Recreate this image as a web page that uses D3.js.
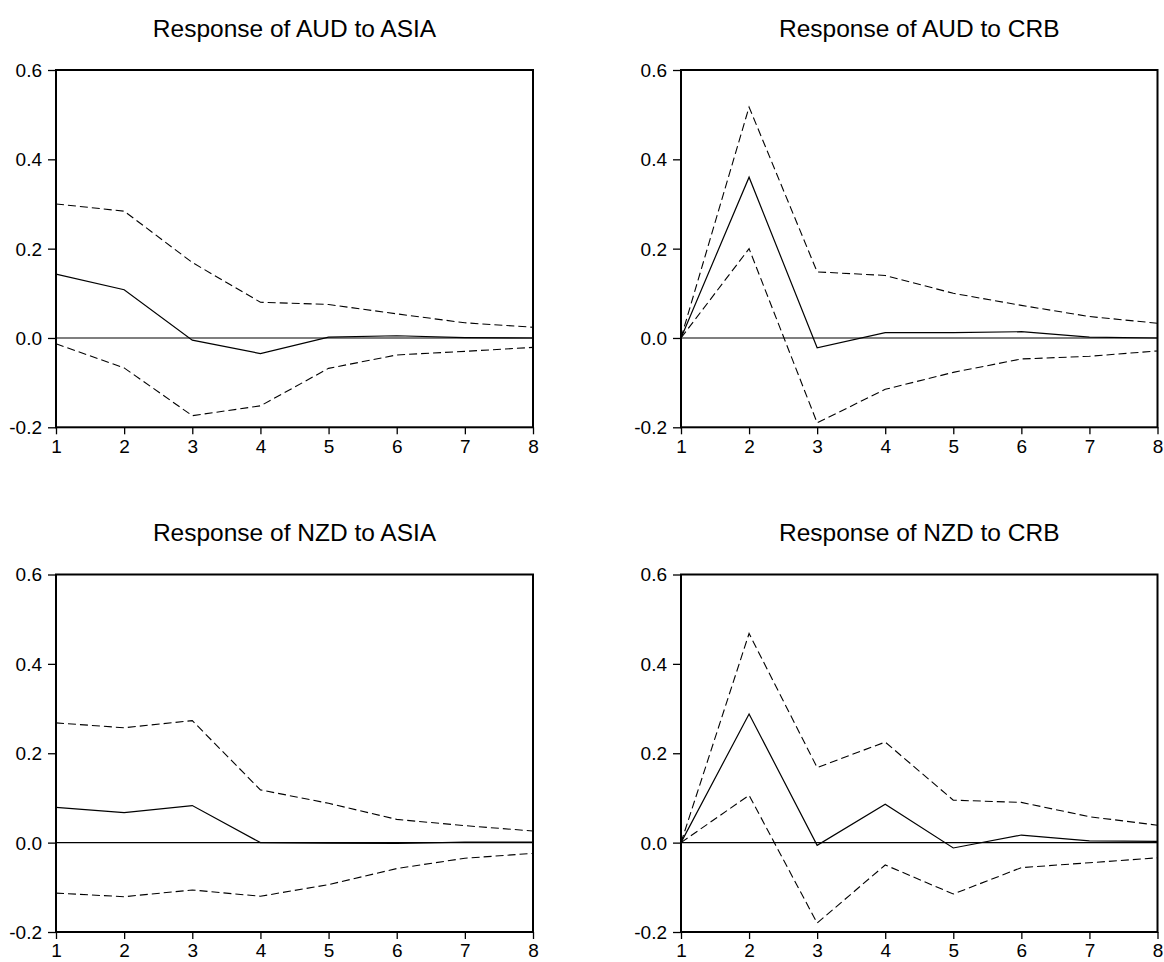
<!DOCTYPE html>
<html>
<head>
<meta charset="utf-8">
<script src="https://cdn.jsdelivr.net/npm/d3@7"></script>
<style>
  html, body { margin: 0; padding: 0; background: #fff; }
  svg { display: block; }
  text { font-family: "Liberation Sans", Arial, sans-serif; fill: #000; }
</style>
</head>
<body>
<svg id="chart" width="1164" height="962"></svg>
<script>
// Impulse responses (point estimate with +/- 2 S.E. bands), periods 1..8
const periods = [1, 2, 3, 4, 5, 6, 7, 8];
const yTicks = [-0.2, 0.0, 0.2, 0.4, 0.6];
const yTickLabels = ["-0.2", "0.0", "0.2", "0.4", "0.6"];
const xTickLabels = ["1", "2", "3", "4", "5", "6", "7", "8"];

const titles = [
  "Response of AUD to ASIA",
  "Response of AUD to CRB",
  "Response of NZD to ASIA",
  "Response of NZD to CRB"
];

const audAsiaResp  = [0.143, 0.108, -0.005, -0.035, 0.002, 0.005, 0.001, 0.000];
const audAsiaUpper = [0.300, 0.284, 0.169, 0.080, 0.075, 0.054, 0.034, 0.024];
const audAsiaLower = [-0.013, -0.067, -0.174, -0.152, -0.068, -0.038, -0.030, -0.021];

const audCrbResp  = [0.000, 0.360, -0.022, 0.012, 0.012, 0.014, 0.002, 0.000];
const audCrbUpper = [0.000, 0.517, 0.148, 0.140, 0.100, 0.073, 0.048, 0.033];
const audCrbLower = [0.000, 0.200, -0.190, -0.115, -0.077, -0.047, -0.041, -0.029];

const nzdAsiaResp  = [0.079, 0.067, 0.083, 0.000, -0.001, -0.002, 0.001, 0.001];
const nzdAsiaUpper = [0.268, 0.257, 0.273, 0.118, 0.088, 0.052, 0.038, 0.026];
const nzdAsiaLower = [-0.113, -0.121, -0.106, -0.120, -0.094, -0.058, -0.035, -0.024];

const nzdCrbResp  = [0.000, 0.288, -0.006, 0.086, -0.012, 0.017, 0.004, 0.003];
const nzdCrbUpper = [0.000, 0.468, 0.168, 0.225, 0.095, 0.090, 0.058, 0.039];
const nzdCrbLower = [0.000, 0.106, -0.180, -0.050, -0.115, -0.056, -0.045, -0.034];

const panelSeries = [
  { resp: audAsiaResp, upper: audAsiaUpper, lower: audAsiaLower },
  { resp: audCrbResp,  upper: audCrbUpper,  lower: audCrbLower },
  { resp: nzdAsiaResp, upper: nzdAsiaUpper, lower: nzdAsiaLower },
  { resp: nzdCrbResp,  upper: nzdCrbUpper,  lower: nzdCrbLower }
];

// Panel frames: [left, right, top, bottom]
const frames = [
  [56, 533, 70, 427.3],
  [681, 1157.5, 70, 427.3],
  [56, 533, 574.5, 932],
  [681, 1157.5, 574.5, 932]
];

const svg = d3.select("#chart");

panelSeries.forEach((s, i) => {
  const [x0, x1, y0, y1] = frames[i];
  const x = d3.scaleLinear().domain([1, 8]).range([x0, x1]);
  const y = d3.scaleLinear().domain([-0.2, 0.6]).range([y1, y0]);
  const g = svg.append("g");

  // title
  g.append("text")
    .attr("x", (x0 + x1) / 2)
    .attr("y", y0 - 33.5)
    .attr("text-anchor", "middle")
    .style("font-size", "24.5px")
    .text(titles[i]);

  // zero reference line
  g.append("line")
    .attr("x1", x0).attr("x2", x1)
    .attr("y1", y(0)).attr("y2", y(0))
    .attr("stroke", "#000").attr("stroke-width", 1.2);

  const line = d3.line().x((d, k) => x(periods[k])).y(d => y(d));

  g.append("path").datum(s.upper)
    .attr("d", line).attr("fill", "none")
    .attr("stroke", "#000").attr("stroke-width", 1.1)
    .attr("stroke-dasharray", "8,4");
  g.append("path").datum(s.lower)
    .attr("d", line).attr("fill", "none")
    .attr("stroke", "#000").attr("stroke-width", 1.1)
    .attr("stroke-dasharray", "8,4");
  g.append("path").datum(s.resp)
    .attr("d", line).attr("fill", "none")
    .attr("stroke", "#000").attr("stroke-width", 1.2);

  // y axis
  const yAxis = d3.axisLeft(y)
    .tickValues(yTicks)
    .tickFormat((d, k) => yTickLabels[k])
    .tickSizeInner(8).tickSizeOuter(0).tickPadding(6);
  const ya = g.append("g").attr("transform", `translate(${x0},0)`).call(yAxis);

  // x axis
  const xAxis = d3.axisBottom(x)
    .tickValues(periods)
    .tickFormat((d, k) => xTickLabels[k])
    .tickSizeInner(7).tickSizeOuter(0).tickPadding(5);
  const xa = g.append("g").attr("transform", `translate(0,${y1})`).call(xAxis);

  [ya, xa].forEach(a => {
    a.select(".domain").remove();
    a.selectAll(".tick line").attr("stroke", "#000").attr("stroke-width", 1.3);
    a.selectAll(".tick text")
      .style("font-size", "19px")
      .style("font-family", "'Liberation Sans', Arial, sans-serif")
      .attr("fill", "#000");
  });
  ya.selectAll(".tick text").attr("dy", "0.34em");

  // frame
  g.append("rect")
    .attr("x", x0).attr("y", y0)
    .attr("width", x1 - x0).attr("height", y1 - y0)
    .attr("fill", "none").attr("stroke", "#000").attr("stroke-width", 2);
});
</script>
</body>
</html>
